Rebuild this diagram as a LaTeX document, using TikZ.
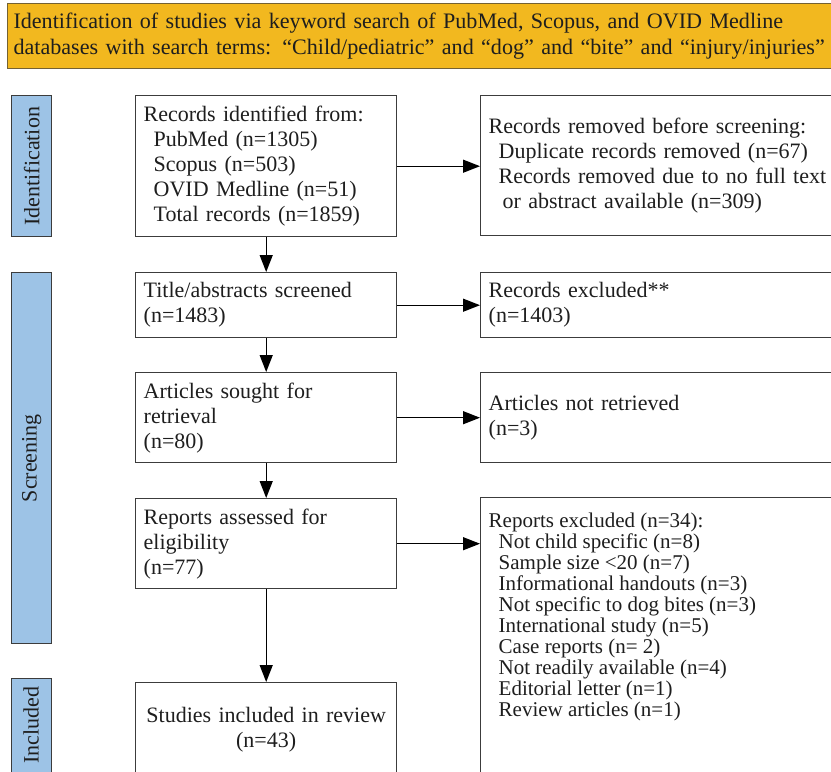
\documentclass[tikz,border=0pt]{standalone}
\usepackage{fontspec}
\setmainfont{Liberation Serif}
\usetikzlibrary{arrows.meta}
\definecolor{boxline}{HTML}{3C3C3C}
\definecolor{boxtext}{HTML}{1E1E1E}
\definecolor{phaseblue}{HTML}{9DC3E6}
\definecolor{bannergold}{HTML}{F2B81F}
\begin{document}
\begin{tikzpicture}[x=1pt, y=-1pt,
	box/.style={draw=boxline, line width=1.4pt, fill=white, text=boxtext, anchor=north west,
		align=left, inner xsep=8pt, font=\fontsize{22}{25}\selectfont},
	phase/.style={draw=boxline, line width=1.4pt, fill=phaseblue, text=boxtext, anchor=north west,
		minimum width=40pt, font=\fontsize{22}{24}\selectfont},
	flow/.style={draw=black, line width=1.3pt, -{Triangle[length=17pt,width=13pt]}}]

	\useasboundingbox (0,0) rectangle (831,772);
	\clip (0,0) rectangle (831,772);

	% banner
	\node (banner) [draw=boxline!70!bannergold, line width=1pt, fill=bannergold, text=boxtext,
		anchor=north west, minimum height=65pt, align=left,
		text width=900pt, inner xsep=6pt, font=\fontsize{22.1}{26}\selectfont] at (7,3)
		{Identification of studies via keyword search of PubMed, Scopus, and OVID Medline\\
		databases with search terms: “Child/pediatric” and “dog” and “bite” and “injury/injuries”};

	% phases
	\node (ident) [phase, minimum height=141pt] at (11,95)
		{\rotatebox{90}{Identification}};
	\node (screen) [phase, minimum height=371pt] at (11,272)
		{\rotatebox{90}{Screening}};
	\node (incl) [phase, minimum height=130pt] at (11,678) {};
	\node [rotate=90, text=boxtext, font=\fontsize{22}{24}\selectfont] at (31,725) {Included};

	% left column
	\node (recs) [box, text width=245pt, minimum height=141pt] at (135,95)
		{Records identified from:\\
		\hspace*{10pt}PubMed (n=1305)\\
		\hspace*{10pt}Scopus (n=503)\\
		\hspace*{10pt}OVID Medline (n=51)\\
		\hspace*{10pt}Total records (n=1859)};
	\node (title) [box, text width=245pt, minimum height=65pt] at (135,272)
		{Title/abstracts screened\\(n=1483)};
	\node (sought) [box, text width=245pt, minimum height=90pt] at (135,372)
		{Articles sought for\\retrieval\\(n=80)};
	\node (assess) [box, text width=245pt, minimum height=90pt] at (135,498)
		{Reports assessed for\\eligibility\\(n=77)};
	\node (studies) [box, text width=245pt, minimum height=94pt, align=center] at (135,682)
		{Studies included in review\\(n=43)};

	% right column
	\node (removed) [box, text width=354pt, minimum height=140pt] at (480,95)
		{Records removed before screening:\\
		\hspace*{10pt}Duplicate records removed (n=67)\\
		\hspace*{10pt}Records removed due to no full text\\
		\hspace*{14pt}or abstract available (n=309)};
	\node (excl) [box, text width=354pt, minimum height=65pt] at (480,272)
		{Records excluded**\\(n=1403)};
	\node (notret) [box, text width=354pt, minimum height=90pt] at (480,372)
		{Articles not retrieved\\(n=3)};
	\node (repexcl) [box, inner ysep=15pt] at (480,497)
		{\parbox[t][290pt][t]{354pt}{\raggedright\fontsize{21}{21}\selectfont
		Reports excluded (n=34):\\
		\hspace*{10pt}Not child specific (n=8)\\
		\hspace*{10pt}Sample size <20 (n=7)\\
		\hspace*{10pt}Informational handouts (n=3)\\
		\hspace*{10pt}Not specific to dog bites (n=3)\\
		\hspace*{10pt}International study (n=5)\\
		\hspace*{10pt}Case reports (n= 2)\\
		\hspace*{10pt}Not readily available (n=4)\\
		\hspace*{10pt}Editorial letter (n=1)\\
		\hspace*{10pt}Review articles (n=1)}};

	% arrows down
	\draw[flow] (recs.south) -- (title.north);
	\draw[flow] (title.south) -- (sought.north);
	\draw[flow] (sought.south) -- (assess.north);
	\draw[flow] (assess.south) -- (studies.north);

	% arrows right
	\draw[flow] (recs.east) -- (recs.east -| removed.west);
	\draw[flow] (title.east) -- (title.east -| excl.west);
	\draw[flow] (sought.east) -- (sought.east -| notret.west);
	\draw[flow] (assess.east) -- (assess.east -| repexcl.west);

\end{tikzpicture}
\end{document}
